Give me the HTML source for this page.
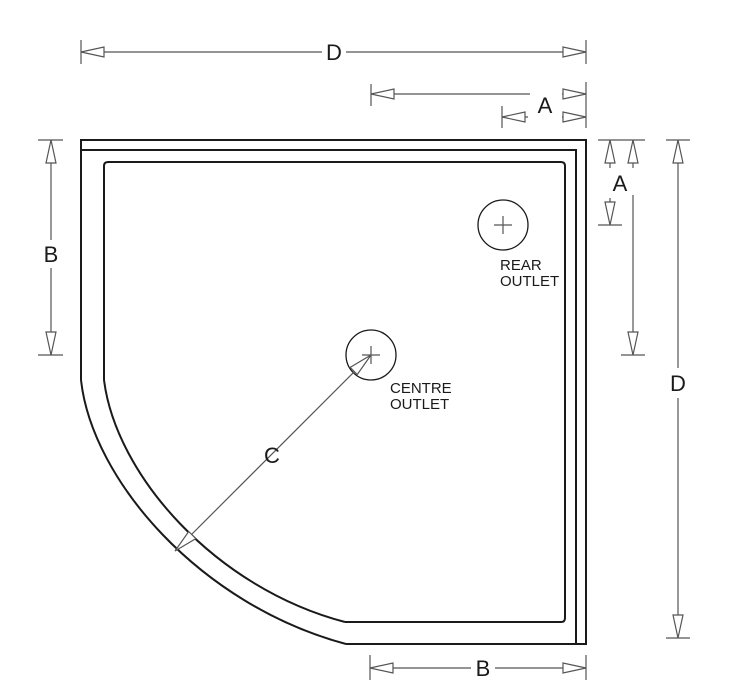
<!DOCTYPE html>
<html><head><meta charset="utf-8"><style>
html,body{margin:0;padding:0;background:#fff;}
svg{display:block;}
text{font-family:"Liberation Sans",Arial,sans-serif;fill:#1a1a1a;}
</style></head><body>
<svg width="740" height="700" viewBox="0 0 740 700" xmlns="http://www.w3.org/2000/svg">
<g fill="none" stroke="#1a1a1a" stroke-width="2">
  <path d="M81,380 L81,140 L586,140 L586,644 L346,644"/>
  <path d="M81,380 C92,480 200,605 346,644"/>
  <path d="M81,150 L576,150 L576,644"/>
  <path d="M104,380 L104,166 Q104,162 108,162 L561,162 Q565,162 565,166 L565,618 Q565,622 561,622 L345,622"/>
  <path d="M104,380 C116,475 215,588 345,622"/>
</g>
<g fill="none" stroke="#1a1a1a" stroke-width="1.3">
  <circle cx="503" cy="225" r="25"/>
  <circle cx="371" cy="355" r="25"/>
</g>
<g stroke="#555" stroke-width="1.2" fill="none">
  <path d="M494,225 H512 M503,216 V234"/>
  <path d="M362,355 H380 M371,346 V364"/>
  <path d="M371,355 L175,551"/>
  <path d="M81,40 V64 M586,40 V64 M81,52 H322 M346,52 H586"/>
  <path d="M371,84 V106 M371,94 H530 M586,82 V128 M562,94 H586"/>
  <path d="M502,106 V128 M502,117 H528 M562,117 H586"/>
  <path d="M598,140 H645 M610,140 V168 M633,140 V168 M610,198 V225 M598,225 H622 M633,195 V355 M621,355 H645"/>
  <path d="M666,140 H690 M666,638 H690 M678,140 V368 M678,398 V638"/>
  <path d="M38,140 H63 M38,355 H63 M51,140 V240 M51,268 V355"/>
  <path d="M370,655 V680 M586,655 V680 M370,668 H471 M495,668 H586"/>
</g>
<g fill="#fff" stroke="#555" stroke-width="1.2">
  <polygon points="81,52 104,47 104,57"/>
  <polygon points="586,52 563,47 563,57"/>
  <polygon points="371,94 394,89 394,99"/>
  <polygon points="586,94 563,89 563,99"/>
  <polygon points="502,117 525,112 525,122"/>
  <polygon points="586,117 563,112 563,122"/>
  <polygon points="610,140 605,163 615,163"/>
  <polygon points="633,140 628,163 638,163"/>
  <polygon points="610,225 605,202 615,202"/>
  <polygon points="633,355 628,332 638,332"/>
  <polygon points="678,140 673,163 683,163"/>
  <polygon points="678,638 673,615 683,615"/>
  <polygon points="51,140 46,163 56,163"/>
  <polygon points="51,355 46,332 56,332"/>
  <polygon points="370,668 393,663 393,673"/>
  <polygon points="586,668 563,663 563,673"/>
  <polygon points="175,551 188.7,531.5 195.8,538.6"/>
  <polygon points="371,355 357.3,374.5 350.2,367.4"/>
</g>
<g font-size="22">
  <text x="334" y="60" text-anchor="middle">D</text>
  <text x="545" y="113" text-anchor="middle">A</text>
  <text x="620" y="191" text-anchor="middle">A</text>
  <text x="678" y="391" text-anchor="middle">D</text>
  <text x="51" y="262" text-anchor="middle">B</text>
  <text x="483" y="676" text-anchor="middle">B</text>
  <text x="272" y="463" text-anchor="middle">C</text>
</g>
<g font-size="15">
  <text x="500" y="270">REAR</text>
  <text x="500" y="286">OUTLET</text>
  <text x="390" y="393">CENTRE</text>
  <text x="390" y="409">OUTLET</text>
</g>
</svg>
</body></html>
